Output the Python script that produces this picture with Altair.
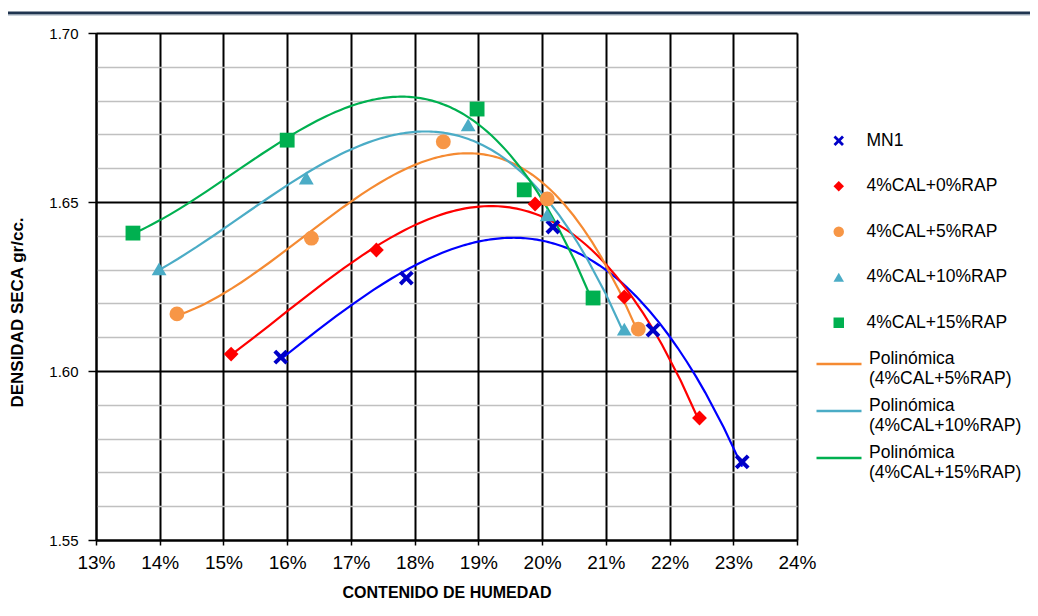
import altair as alt
import pandas as pd

series = ["MN1", "4%CAL+0%RAP", "4%CAL+5%RAP", "4%CAL+10%RAP", "4%CAL+15%RAP"]
hum_mn1 = [0.1590, 0.1787, 0.2017, 0.2174, 0.2314]
den_mn1 = [1.6041, 1.6275, 1.6426, 1.6121, 1.5731]
hum_0 = [0.1512, 0.1740, 0.1989, 0.2129, 0.2247]
den_0 = [1.6050, 1.6358, 1.6494, 1.6219, 1.5861]
hum_5 = [0.1427, 0.1638, 0.1845, 0.2008, 0.2151]
den_5 = [1.6169, 1.6393, 1.6678, 1.6509, 1.6124]
hum_10 = [0.1399, 0.1630, 0.1884, 0.2008, 0.2129]
den_10 = [1.6302, 1.6571, 1.6728, 1.6462, 1.6124]
hum_15 = [0.1358, 0.1600, 0.1898, 0.1972, 0.2080]
den_15 = [1.6408, 1.6683, 1.6775, 1.6536, 1.6216]

x_ticks = [0.13, 0.14, 0.15, 0.16, 0.17, 0.18, 0.19, 0.20, 0.21, 0.22, 0.23, 0.24]
y_ticks = [1.55, 1.56, 1.57, 1.58, 1.59, 1.60, 1.61, 1.62, 1.63, 1.64, 1.65,
           1.66, 1.67, 1.68, 1.69, 1.70]

marker_colors = ["#0000C8", "#FF0000", "#F79646", "#4BACC6", "#00B050"]
line_colors = ["#0000FF", "#FF0000", "#F58A32", "#4BACC6", "#00B050"]
x_path = ("M-1,-0.62L-0.62,-1L0,-0.38L0.62,-1L1,-0.62L0.38,0L1,0.62L0.62,1"
          "L0,0.38L-0.62,1L-1,0.62L-0.38,0Z")
shapes = [x_path, "diamond", "circle", "triangle-up", "square"]
trend_names = ["(" + s + ")" for s in series]

rows = []
for s, hs, ds in zip(series, [hum_mn1, hum_0, hum_5, hum_10, hum_15],
                     [den_mn1, den_0, den_5, den_10, den_15]):
    for h, d in zip(hs, ds):
        rows.append({"serie": s, "h": h, "d": d})
df = pd.DataFrame(rows)

FONT = "Liberation Sans"
NARROW = "Liberation Sans Narrow, Arial Narrow, Liberation Sans"
major = "abs(datum.value*20 - round(datum.value*20)) < 0.001"

x_enc = alt.X("h:Q", scale=alt.Scale(domain=[0.13, 0.24], nice=False, zero=False),
              axis=alt.Axis(values=x_ticks, format=".0%", title="CONTENIDO DE HUMEDAD",
                            grid=True, gridColor="black", gridWidth=2,
                            domainColor="black", domainWidth=2,
                            tickColor="black", tickSize=5, tickWidth=1.5,
                            labelFont=NARROW, labelFontSize=19, labelColor="black",
                            labelPadding=8, labelFlush=False,
                            titleFont=FONT, titleFontSize=16, titleFontWeight="bold",
                            titleColor="black", titlePadding=12))
y_enc = alt.Y("d:Q", scale=alt.Scale(domain=[1.55, 1.70], nice=False, zero=False),
              axis=alt.Axis(values=y_ticks, title="DENSIDAD SECA gr/cc.",
                            labelExpr=major + " ? format(datum.value, '.2f') : ''",
                            grid=True,
                            gridColor={"condition": {"test": major, "value": "black"},
                                       "value": "#C0C0C0"},
                            gridWidth={"condition": {"test": major, "value": 2},
                                       "value": 1.5},
                            domainColor="black", domainWidth=2,
                            tickColor="black",
                            tickSize={"condition": {"test": major, "value": 8},
                                      "value": 0},
                            tickWidth=1.5, labelFlush=False,
                            labelFont=FONT, labelFontSize=15, labelColor="black",
                            labelPadding=10,
                            titleFont=FONT, titleFontSize=17, titleFontWeight="bold",
                            titleColor="black", titleX=-79, titleY=279,
                            titleAlign="center", titleBaseline="middle",
                            titleAngle=270))

base = alt.Chart(df)

lines = base.transform_regression(
    "h", "d", groupby=["serie"], method="poly", order=3
).transform_calculate(
    linea="'(' + datum.serie + ')'"
).mark_line(strokeWidth=2.2, clip=True).encode(
    x=x_enc, y=y_enc,
    stroke=alt.Stroke("linea:N",
                      scale=alt.Scale(domain=trend_names, range=line_colors),
                      legend=alt.Legend(values=trend_names[2:], title=None,
                                        orient="none", legendX=719, legendY=307,
                                        symbolType="stroke", symbolSize=2025,
                                        symbolStrokeWidth=2.5, padding=0,
                                        labelFont=FONT, labelFontSize=17.5,
                                        labelColor="black", labelOffset=6,
                                        labelBaseline="alphabetic",
                                        labelLimit=300, rowPadding=0,
                                        labelExpr="['Polinómica', datum.label]"))
)

pt_legend = alt.Legend(title=None, orient="none", legendX=734, legendY=99,
                       symbolSize=110, padding=0,
                       labelFont=FONT, labelFontSize=17.5,
                       labelColor="black", labelOffset=19,
                       labelLimit=300, rowPadding=26.5)

points = base.mark_point(filled=True, opacity=1, size=220).encode(
    x=x_enc, y=y_enc,
    fill=alt.Fill("serie:N", scale=alt.Scale(domain=series, range=marker_colors),
                  legend=pt_legend),
    shape=alt.Shape("serie:N", scale=alt.Scale(domain=series, range=shapes),
                    legend=pt_legend),
)

top_rule = alt.Chart(pd.DataFrame({"k": [0]})).mark_rule(
    color="#1F344F", strokeWidth=3, clip=False
).encode(x=alt.value(-91), x2=alt.value(950), y=alt.value(-20))
top_rule2 = alt.Chart(pd.DataFrame({"k": [0]})).mark_rule(
    color="#9AA8B8", strokeWidth=1, clip=False
).encode(x=alt.value(-91), x2=alt.value(950), y=alt.value(-18))

chart = alt.layer(top_rule, top_rule2, lines, points).properties(
    width=701, height=507,
    autosize=alt.AutoSizeParams(type="none"),
    padding={"left": 88, "top": 25, "right": 233, "bottom": 68},
).configure_view(stroke="black", strokeWidth=2).configure(background="white")

chart.save("out.html", embed_options={"renderer": "svg", "actions": False})
